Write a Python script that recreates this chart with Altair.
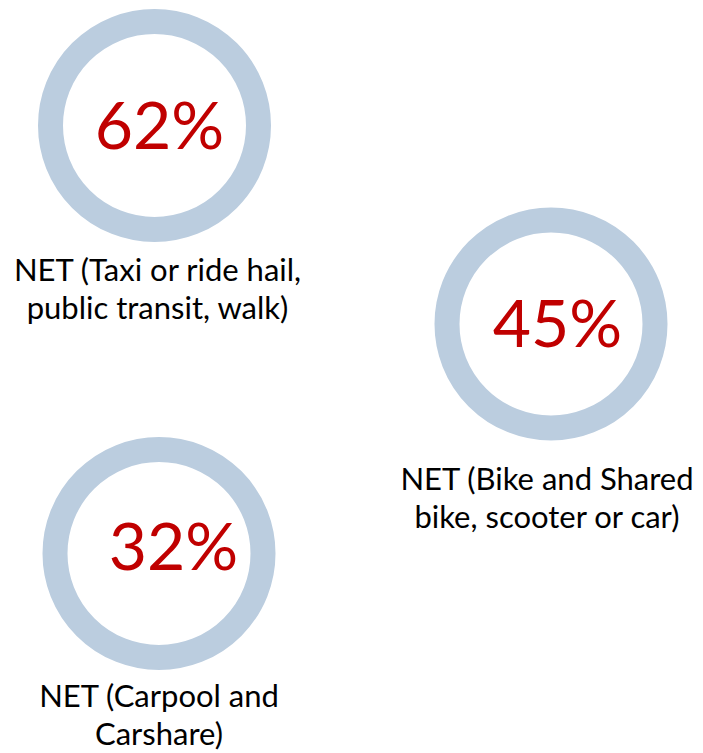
import altair as alt
import pandas as pd

# ---- data ----
categories = ["Taxi/Ride hail/Transit/Walk", "Bike/Shared mobility", "Carpool/Carshare"]
values = [62, 45, 32]
label_lines = [
    ["NET (Taxi or ride hail,", "public transit, walk)"],
    ["NET (Bike and Shared", "bike, scooter or car)"],
    ["NET (Carpool and", "Carshare)"],
]

# ---- layout (page pixel coordinates) ----
ring_x = [154.5, 551, 159]
ring_y = [125.5, 324, 553.5]
pct_x = [159.5, 557.5, 173.5]
pct_y = [149, 347, 570]
lab_x = [157.5, 547, 159]
lab_y = [281, 490, 707]
line_gap = 38

ring_df = pd.DataFrame({"cat": categories, "x": ring_x, "y": ring_y})
pct_df = pd.DataFrame({"cat": categories, "value": values, "x": pct_x, "y": pct_y})
rows = []
for c, lines, lx, ly in zip(categories, label_lines, lab_x, lab_y):
    for i, t in enumerate(lines):
        rows.append({"cat": c, "text": t, "x": lx, "y": ly + i * line_gap})
lab_df = pd.DataFrame(rows)

W, H = 687, 745
xs = alt.Scale(domain=[8, 8 + W])
ys = alt.Scale(domain=[8, 8 + H], reverse=True)

X = lambda: alt.X("x:Q", scale=xs, axis=None)
Y = lambda: alt.Y("y:Q", scale=ys, axis=None)

rings = alt.Chart(ring_df).mark_point(
    shape="circle", filled=False, size=208 * 208, strokeWidth=25,
    color="#BBCDDF", opacity=1
).encode(x=X(), y=Y())

pcts = alt.Chart(pct_df).transform_calculate(
    label="datum.value + '%'"
).mark_text(
    font="Lato", fontSize=66, color="#C00000", align="center", baseline="alphabetic"
).encode(x=X(), y=Y(), text="label:N")

labs = alt.Chart(lab_df).mark_text(
    font="Lato", fontSize=31, color="#000000", align="center", baseline="alphabetic"
).encode(x=X(), y=Y(), text="text:N")

chart = alt.layer(rings, pcts, labs).properties(
    width=W, height=H, padding=0, autosize=alt.AutoSizeParams(type="none")
).configure_view(stroke=None)

chart.save("out.html", embed_options={"renderer": "svg", "actions": False})
